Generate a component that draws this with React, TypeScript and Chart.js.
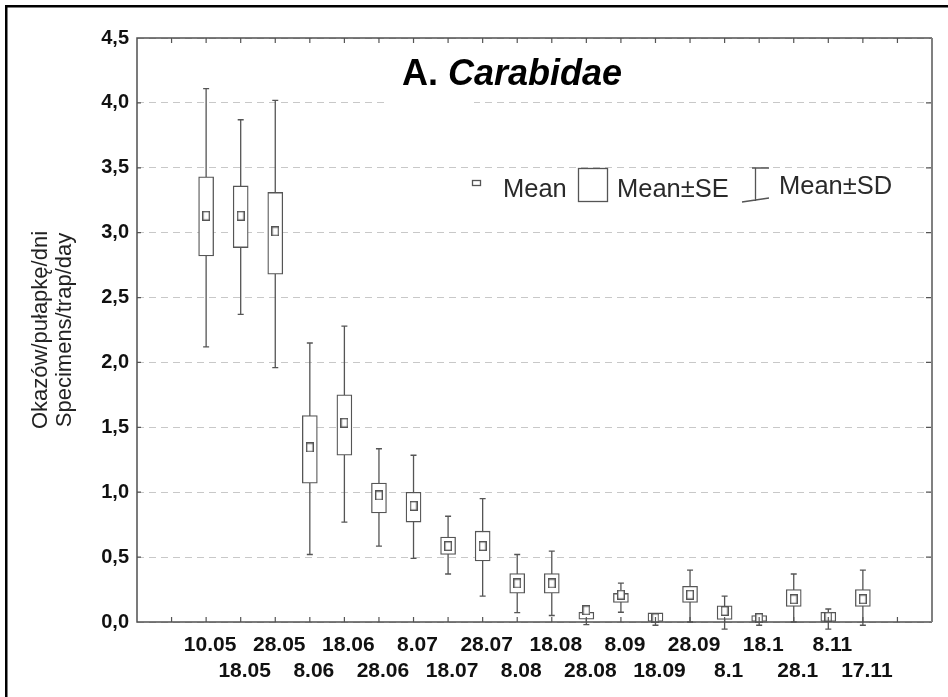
import React, { useEffect, useRef } from 'react';
import { Chart, registerables } from 'chart.js';

Chart.register(...registerables);

// ---- data ----
const categories = ['10.05', '18.05', '28.05', '8.06', '18.06', '28.06', '8.07', '18.07', '28.07', '8.08', '18.08', '28.08', '8.09', '18.09', '28.09', '8.1', '18.1', '28.1', '8.11', '17.11'];
const means = [3.13, 3.13, 3.01, 1.345, 1.535, 0.975, 0.895, 0.585, 0.585, 0.297, 0.297, 0.09, 0.21, 0.03, 0.21, 0.085, 0.03, 0.175, 0.04, 0.175];
const seLow = [2.82, 2.885, 2.68, 1.07, 1.285, 0.84, 0.77, 0.52, 0.47, 0.222, 0.222, 0.022, 0.15, 0.0, 0.15, 0.02, 0.0, 0.12, 0.0, 0.12];
const seHigh = [3.43, 3.36, 3.31, 1.59, 1.75, 1.07, 1.0, 0.655, 0.7, 0.373, 0.373, 0.075, 0.22, 0.07, 0.275, 0.125, 0.05, 0.25, 0.075, 0.25];
const sdLow = [2.12, 2.37, 1.96, 0.52, 0.77, 0.585, 0.49, 0.37, 0.2, 0.073, 0.05, -0.02, 0.075, -0.025, 0.0, -0.055, -0.025, 0.0, -0.055, -0.025];
const sdHigh = [4.11, 3.87, 4.02, 2.15, 2.28, 1.335, 1.285, 0.815, 0.95, 0.52, 0.546, 0.11, 0.3, 0.06, 0.4, 0.2, 0.06, 0.37, 0.1, 0.4];
const yTickLabels = ['0,0', '0,5', '1,0', '1,5', '2,0', '2,5', '3,0', '3,5', '4,0', '4,5'];
const yTitle = ['Okazów/pułapkę/dni', 'Specimens/trap/day'];
const titleA = 'A. ';
const titleB = 'Carabidae';
const legendLabels = ['Mean', 'Mean±SE', 'Mean±SD'];

// two empty slots on the left, two on the right of the category axis
const PAD_L = 2;
const PAD_R = 2;

const FONT = '"Liberation Sans", Arial, Helvetica, sans-serif';
const STROKE = '#555555';

export default function App() {
  const ref = useRef<HTMLCanvasElement | null>(null);

  useEffect(() => {
    if (!ref.current) return;

    const labels = [
      ...Array(PAD_L).fill(''),
      ...categories,
      ...Array(PAD_R).fill(''),
    ];
    const pad = (arr: any[]) => [...Array(PAD_L).fill(null), ...arr, ...Array(PAD_R).fill(null)];

    // mean marker (slightly tall rectangle)
    const marker = document.createElement('canvas');
    marker.width = 8;
    marker.height = 10;
    const mc = marker.getContext('2d')!;
    mc.fillStyle = '#fff';
    mc.fillRect(0, 0, 8, 10);
    mc.strokeStyle = STROKE;
    mc.lineWidth = 1.4;
    mc.strokeRect(0.7, 0.7, 6.6, 8.6);

    const whiskerPlugin = {
      id: 'whiskers',
      beforeDatasetsDraw(chart: any) {
        const { ctx, scales } = chart;
        const xs = scales.x;
        const ys = scales.y;
        ctx.save();
        // small gap in the 4,0 gridline under the title (as in the reference)
        ctx.fillStyle = '#fff';
        ctx.fillRect(388, ys.getPixelForValue(4.0) - 3, 86, 6);
        ctx.strokeStyle = STROKE;
        ctx.lineWidth = 1.3;
        for (let j = 0; j < categories.length; j++) {
          const x = xs.getPixelForValue(j + PAD_L);
          const y1 = ys.getPixelForValue(sdLow[j]);
          const y2 = ys.getPixelForValue(sdHigh[j]);
          ctx.beginPath();
          ctx.moveTo(x, y1);
          ctx.lineTo(x, y2);
          ctx.moveTo(x - 3, y1);
          ctx.lineTo(x + 3, y1);
          ctx.moveTo(x - 3, y2);
          ctx.lineTo(x + 3, y2);
          ctx.stroke();
        }
        ctx.restore();
      },
    };

    const framePlugin = {
      id: 'frame',
      afterDraw(chart: any) {
        const { ctx, chartArea, scales } = chart;
        const { left, right, top, bottom } = chartArea;
        const xs = scales.x;
        const ys = scales.y;
        ctx.save();
        // inward tick marks
        ctx.strokeStyle = STROKE;
        ctx.lineWidth = 1.2;
        ctx.beginPath();
        for (let i = 1; i < labels.length - 1; i++) {
          const x = xs.getPixelForValue(i);
          ctx.moveTo(x, bottom);
          ctx.lineTo(x, bottom - 5);
          ctx.moveTo(x, top);
          ctx.lineTo(x, top + 5);
        }
        for (let v = 0.5; v < 4.5; v += 0.5) {
          const y = ys.getPixelForValue(v);
          ctx.moveTo(right, y);
          ctx.lineTo(right - 6, y);
          ctx.moveTo(left, y);
          ctx.lineTo(left + 4, y);
        }
        ctx.stroke();
        // plot frame
        ctx.strokeStyle = '#505050';
        ctx.lineWidth = 1.5;
        ctx.beginPath();
        ctx.moveTo(right, bottom);
        ctx.lineTo(left, bottom);
        ctx.lineTo(left, top);
        ctx.lineTo(right, top);
        ctx.stroke();
        ctx.strokeStyle = '#808080';
        ctx.lineWidth = 2;
        ctx.beginPath();
        ctx.moveTo(right, top);
        ctx.lineTo(right, bottom);
        ctx.stroke();

        // outer black frame (left and top edges visible)
        ctx.fillStyle = '#000';
        ctx.fillRect(5, 5, 2.5, chart.height);
        ctx.fillRect(5, 5, chart.width, 2.5);

        // title
        ctx.fillStyle = '#000';
        ctx.textBaseline = 'alphabetic';
        ctx.textAlign = 'left';
        ctx.font = `bold 36px ${FONT}`;
        ctx.fillText(titleA, 402, 85);
        const wA = ctx.measureText(titleA).width;
        ctx.font = `italic bold 36px ${FONT}`;
        ctx.fillText(titleB, 402 + wA, 85);

        // legend
        ctx.strokeStyle = STROKE;
        ctx.lineWidth = 1.3;
        ctx.strokeRect(472.5, 180.5, 8, 5);
        ctx.strokeRect(578.5, 168.5, 29, 33);
        ctx.beginPath();
        ctx.moveTo(752, 168);
        ctx.lineTo(769, 168);
        ctx.moveTo(755.5, 168);
        ctx.lineTo(755.5, 201);
        ctx.moveTo(742, 202);
        ctx.lineTo(769, 198);
        ctx.stroke();
        ctx.fillStyle = '#2a2a2a';
        ctx.font = `25.5px ${FONT}`;
        ctx.fillText(legendLabels[0], 503, 196.5);
        ctx.fillText(legendLabels[1], 617, 196.5);
        ctx.fillText(legendLabels[2], 779, 193.5);
        ctx.restore();
      },
    };

    const chart = new Chart(ref.current, {
      type: 'bar',
      data: {
        labels,
        datasets: [
          {
            type: 'line',
            label: 'Mean',
            data: pad(means),
            showLine: false,
            pointStyle: marker as any,
            pointRadius: 4,
            pointHoverRadius: 4,
            order: 0,
            clip: false as any,
          } as any,
          {
            type: 'bar',
            label: 'Mean±SE',
            data: pad(categories.map((_, j) => [seLow[j], seHigh[j]])),
            backgroundColor: '#ffffff',
            borderColor: STROKE,
            borderWidth: 1.3,
            borderSkipped: false,
            barThickness: 15,
            order: 1,
            clip: false as any,
          } as any,
        ],
      },
      options: {
        animation: false,
        responsive: false,
        events: [],
        layout: { padding: { left: 0, right: 16, top: 38, bottom: 0 } },
        plugins: {
          legend: { display: false },
          tooltip: { enabled: false },
          title: { display: false },
        },
        scales: {
          x: {
            type: 'category',
            offset: false,
            grid: { display: false, drawTicks: false },
            border: { display: false },
            ticks: {
              autoSkip: false,
              maxRotation: 0,
              minRotation: 0,
              padding: 11,
              labelOffset: 4,
              color: '#111',
              font: { family: FONT, size: 21, weight: 'bold', lineHeight: 1.2 },
              callback: (_v: any, i: number) => {
                const j = i - PAD_L;
                if (j < 0 || j >= categories.length) return '';
                return j % 2 === 0 ? [categories[j], ''] : ['', categories[j]];
              },
            },
            afterFit: (s: any) => {
              s.height = 75;
            },
          },
          y: {
            min: 0,
            max: 4.5,
            grid: { color: '#c8c8c8', lineWidth: 1, drawTicks: false },
            border: { display: false, dash: [7, 5] },
            ticks: {
              stepSize: 0.5,
              padding: 8,
              color: '#111',
              font: { family: FONT, size: 20, weight: 'bold' },
              callback: (_v: any, i: number) => yTickLabels[i],
            },
            title: {
              display: true,
              text: yTitle,
              color: '#222',
              font: { family: FONT, size: 22, lineHeight: 1.1 },
              padding: { top: 29, bottom: 0 },
            },
            afterFit: (s: any) => {
              s.width = 137;
            },
          },
        },
      } as any,
      plugins: [whiskerPlugin, framePlugin],
    });

    return () => chart.destroy();
  }, []);

  return (
    <div style={{ position: 'absolute', left: 0, top: 0, width: 948, height: 697 }}>
      <canvas ref={ref} width={948} height={697} />
    </div>
  );
}
